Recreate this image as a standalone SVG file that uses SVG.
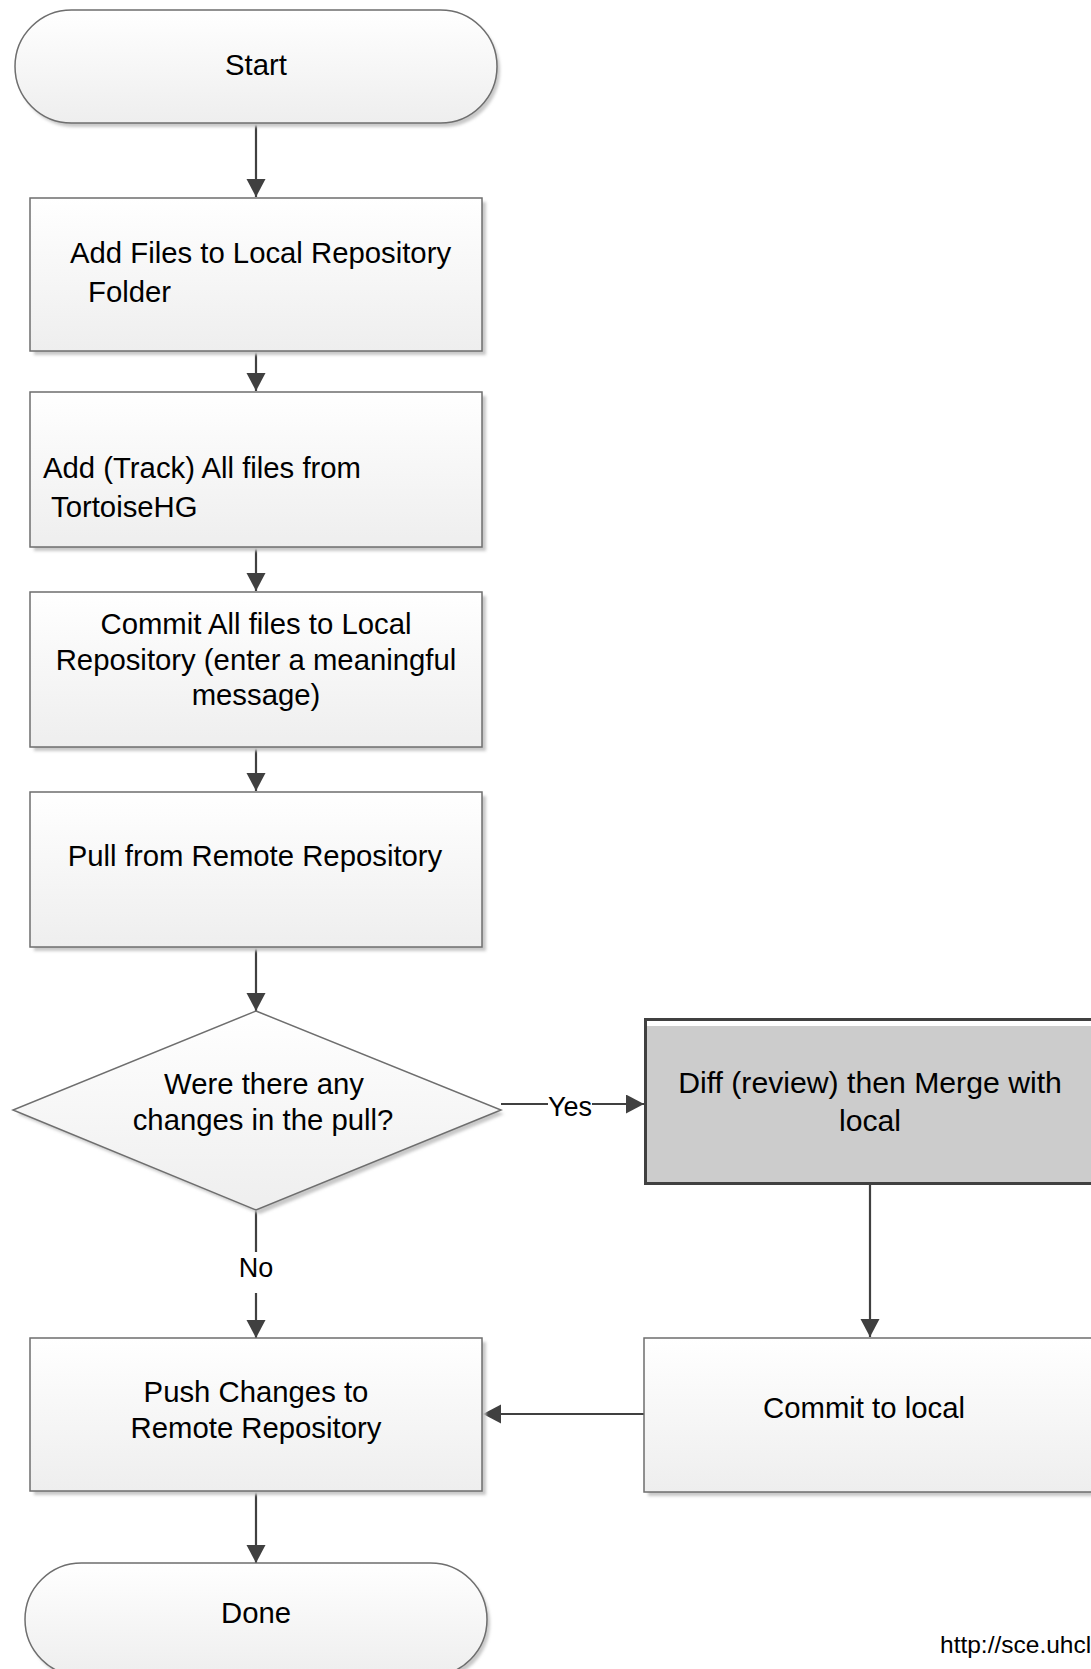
<svg xmlns="http://www.w3.org/2000/svg" width="1091" height="1669" viewBox="0 0 1091 1669">
<defs>
<linearGradient id="g" x1="0" y1="0" x2="0" y2="1">
<stop offset="0" stop-color="#ffffff"/>
<stop offset="1" stop-color="#eeeeee"/>
</linearGradient>
<filter id="blur" x="-10%" y="-10%" width="120%" height="120%">
<feGaussianBlur stdDeviation="1.5"/>
</filter>
<marker id="arr" markerUnits="userSpaceOnUse" markerWidth="20" markerHeight="20" refX="18" refY="9.5" orient="auto">
<path d="M0,0 L18,9.5 L0,19 z" fill="#404040"/>
</marker>
</defs>
<style>
.shape{fill:url(#g);stroke:#6e6e6e;stroke-width:1.5}
.shadow{fill:#c8c8c8;filter:url(#blur)}
.t{font-family:"Liberation Sans",Arial,sans-serif;font-size:29.3px;fill:#000}
.c{text-anchor:middle}
.lbl{font-family:"Liberation Sans",Arial,sans-serif;font-size:27px;fill:#000;text-anchor:middle}
.ln{stroke:#404040;stroke-width:2.2;fill:none}
</style>
<rect width="1091" height="1669" fill="#ffffff"/>

<g id="connectors">
<line class="ln" x1="256" y1="124" x2="256" y2="197" marker-end="url(#arr)"/>
<line class="ln" x1="256" y1="352" x2="256" y2="391" marker-end="url(#arr)"/>
<line class="ln" x1="256" y1="548" x2="256" y2="591" marker-end="url(#arr)"/>
<line class="ln" x1="256" y1="748" x2="256" y2="791" marker-end="url(#arr)"/>
<line class="ln" x1="256" y1="948" x2="256" y2="1011" marker-end="url(#arr)"/>
<line class="ln" x1="501" y1="1104" x2="548" y2="1104"/>
<line class="ln" x1="592" y1="1104" x2="644" y2="1104" marker-end="url(#arr)"/>
<text class="lbl" x="570" y="1116">Yes</text>
<line class="ln" x1="256" y1="1211" x2="256" y2="1252"/>
<line class="ln" x1="256" y1="1293" x2="256" y2="1338" marker-end="url(#arr)"/>
<text class="lbl" x="256" y="1277">No</text>
<line class="ln" x1="870" y1="1185" x2="870" y2="1337" marker-end="url(#arr)"/>
<line class="ln" x1="644" y1="1414" x2="483" y2="1414" marker-end="url(#arr)"/>
<line class="ln" x1="256" y1="1492" x2="256" y2="1563" marker-end="url(#arr)"/>
</g>

<g id="start">
<rect class="shadow" x="18" y="14" width="482" height="113" rx="56.5"/>
<rect class="shape" x="15" y="10" width="482" height="113" rx="56.5"/>
<text class="t c" x="256" y="75">Start</text>
</g>

<g id="add-files">
<rect class="shadow" x="34" y="202" width="452" height="153"/>
<rect class="shape" x="30" y="198" width="452" height="153"/>
<text class="t" x="70" y="263">Add Files to Local Repository</text>
<text class="t" x="88" y="302">Folder</text>
</g>

<g id="add-track">
<rect class="shadow" x="34" y="396" width="452" height="155"/>
<rect class="shape" x="30" y="392" width="452" height="155"/>
<text class="t" x="43" y="478">Add (Track) All files from</text>
<text class="t" x="51" y="517">TortoiseHG</text>
</g>

<g id="commit-all">
<rect class="shadow" x="34" y="596" width="452" height="155"/>
<rect class="shape" x="30" y="592" width="452" height="155"/>
<text class="t c" x="256" y="634">Commit All files to Local</text>
<text class="t c" x="256" y="670">Repository (enter a meaningful</text>
<text class="t c" x="256" y="705">message)</text>
</g>

<g id="pull">
<rect class="shadow" x="34" y="796" width="452" height="155"/>
<rect class="shape" x="30" y="792" width="452" height="155"/>
<text class="t c" x="255" y="866">Pull from Remote Repository</text>
</g>

<g id="decision">
<polygon class="shadow" points="260,1016 504,1114 260,1214 17,1114"/>
<polygon class="shape" points="256,1011 501,1110 256,1210 13,1110"/>
<text class="t c" x="264" y="1094">Were there any</text>
<text class="t c" x="263" y="1130">changes in the pull?</text>
</g>

<g id="diff-merge">
<rect x="645.5" y="1019.5" width="500" height="164" fill="#ffffff" stroke="#404040" stroke-width="3"/>
<rect x="647" y="1026" width="500" height="156" fill="#cccccc"/>
<text class="t c" x="870" y="1093" style="font-size:30.2px">Diff (review) then Merge with</text>
<text class="t c" x="870" y="1131" style="font-size:30.2px">local</text>
</g>

<g id="push">
<rect class="shadow" x="34" y="1342" width="452" height="153"/>
<rect class="shape" x="30" y="1338" width="452" height="153"/>
<text class="t c" x="256" y="1402">Push Changes to</text>
<text class="t c" x="256" y="1438">Remote Repository</text>
</g>

<g id="commit-local">
<rect class="shadow" x="648" y="1342" width="500" height="154"/>
<rect class="shape" x="644" y="1338" width="500" height="154"/>
<text class="t c" x="864" y="1418">Commit to local</text>
</g>

<g id="done">
<rect class="shadow" x="28" y="1567" width="462" height="113" rx="56.5"/>
<rect class="shape" x="25" y="1563" width="462" height="113" rx="56.5"/>
<text class="t c" x="256" y="1623">Done</text>
</g>

<text x="940" y="1653" font-family="Liberation Sans, Arial, sans-serif" font-size="24.5" fill="#000">http://sce.uhcl</text>
</svg>
